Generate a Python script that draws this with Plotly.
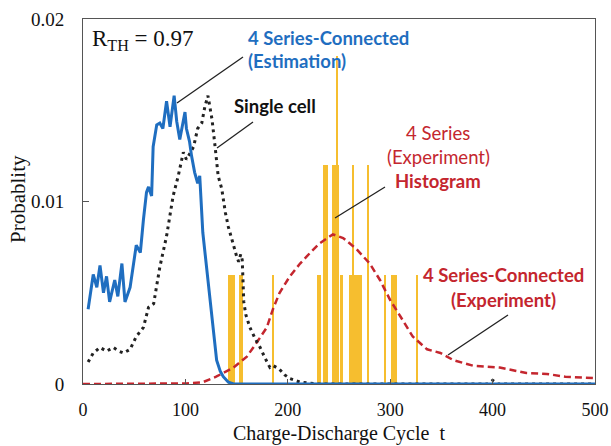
import plotly.graph_objects as go

# ---------------- data ----------------
# 4 Series-Connected (Estimation) - blue solid
est_t = [5, 10, 13.5, 16.6, 20, 23, 26, 31, 34, 38, 41, 46, 52, 56, 59, 62, 64, 67, 68.5, 72,
         75, 78, 81.6, 85, 89, 91.5, 94.5, 99.6, 101, 104, 106, 109, 112, 114, 117, 121, 126,
         130.5, 134, 137, 142, 147, 200, 300, 400, 500]
est_p = [0.0041, 0.0060, 0.0053, 0.0065, 0.0050, 0.0059, 0.0045, 0.0057, 0.0048, 0.0066, 0.0045,
         0.0053, 0.0076, 0.0072, 0.0090, 0.0105, 0.0108, 0.0103, 0.0130, 0.0142, 0.0143, 0.0140,
         0.0155, 0.0141, 0.0158, 0.0144, 0.0134, 0.0149, 0.0140, 0.0133, 0.0125, 0.0116, 0.0110,
         0.0114, 0.0083, 0.0063, 0.0039, 0.0013, 0.0007, 0.0004, 0.0001, 0.0, 0.0, 0.0, 0.0, 0.0]

# Single cell - black dotted
cell_t = [5, 10, 16.6, 23, 29.6, 35, 39.6, 46, 52, 59, 64, 69, 75, 81.6, 88, 93, 98, 101, 108,
          112, 116, 119, 122, 126, 129, 132, 135.5, 139, 142, 147, 150, 152, 154, 155.5, 156, 157,
          159, 163, 168, 173, 178, 182.6, 186, 192, 197, 202, 212, 222, 230, 300, 395, 400, 405,
          500]
cell_p = [0.0012, 0.0017, 0.0020, 0.0018, 0.0020, 0.0018, 0.0017, 0.0019, 0.0026, 0.0031, 0.0042,
          0.0044, 0.0064, 0.0081, 0.0103, 0.0114, 0.0127, 0.0123, 0.0130, 0.0140, 0.0143, 0.0152,
          0.0158, 0.0145, 0.0130, 0.0114, 0.0107, 0.0094, 0.0086, 0.0075, 0.0070, 0.0067, 0.0071,
          0.0068, 0.0055, 0.0045, 0.0038, 0.0031, 0.0025, 0.0020, 0.0014, 0.0009, 0.0010, 0.0008,
          0.0005, 0.0003, 0.0001, 0.00005, 0.0, 0.0, 0.0, 0.0002, 0.0, 0.0]

# 4 Series-Connected (Experiment) - red dashed
exp_t = [0, 50, 101, 117, 130, 147, 160, 170, 179.5, 185.5, 192, 202, 212, 222, 231, 244, 254,
         267, 280, 290, 300, 310, 322, 336, 349, 362, 381, 407, 433, 453, 471, 498, 500]
exp_p = [0.0, 0.00002, 0.00003, 0.0001, 0.0004, 0.0009, 0.0015, 0.0023, 0.0031, 0.0041, 0.0050,
         0.0059, 0.0066, 0.0072, 0.0077, 0.0082, 0.0080, 0.0074, 0.0066, 0.0057, 0.0046, 0.0037,
         0.0026, 0.0019, 0.0017, 0.0013, 0.0010, 0.0009, 0.0006, 0.00055, 0.0004, 0.00033, 0.00033]

# 4 Series (Experiment) Histogram - bins
bin_lo = [141.5, 152.7, 185.2, 229.3, 230.9, 234.0, 242.9, 246.8, 248.8, 251.2, 260.0, 263.0,
          264.2, 278.2, 294.7, 300.8, 325.3]
bin_hi = [148.3, 156.5, 186.2, 230.3, 231.9, 239.0, 246.8, 248.8, 250.4, 254.0, 263.0, 264.2,
          272.0, 279.2, 295.7, 306.3, 326.3]
bin_p = [0.006, 0.006, 0.006, 0.006, 0.006, 0.012, 0.012, 0.018, 0.012, 0.006, 0.006, 0.012,
         0.006, 0.012, 0.006, 0.006, 0.006]

x_ticks = [0, 100, 200, 300, 400, 500]
y_ticks = [0, 0.01, 0.02]
y_ticktext = ["0", "0.01", "0.02"]

# ---------------- figure ----------------
BLUE = "#1F6EC0"
RED = "#C4262E"
YEL = "#F6BE2F"
SERIF = "Liberation Serif"
SANS = "Lato"

fig = go.Figure()

bin_c = [(a + b) / 2 for a, b in zip(bin_lo, bin_hi)]
bin_w = [b - a for a, b in zip(bin_lo, bin_hi)]
fig.add_trace(go.Bar(x=bin_c, y=bin_p, width=bin_w, marker=dict(color=YEL, line=dict(width=0)),
                     name="Histogram"))
fig.add_trace(go.Scatter(x=exp_t, y=exp_p, mode="lines", name="4 Series (Experiment)",
                         line=dict(color=RED, width=2.5, dash="7px,4px")))
fig.add_trace(go.Scatter(x=cell_t, y=cell_p, mode="lines", name="Single cell",
                         line=dict(color="#222222", width=3, dash="3px,4px")))
fig.add_trace(go.Scatter(x=est_t, y=est_p, mode="lines", name="4 Series (Estimation)",
                         line=dict(color=BLUE, width=3)))

fig.update_layout(
    width=611, height=446,
    margin=dict(l=83, r=16, t=19, b=62),
    plot_bgcolor="white", paper_bgcolor="white",
    showlegend=False,
    bargap=0,
    font=dict(family=SERIF, size=18, color="#111111"),
)
fig.update_xaxes(range=[0, 500], tickvals=x_ticks, ticks="inside", ticklen=5, tickcolor="#555",
                 showline=True, linecolor="#555", linewidth=1, mirror=True, showgrid=False,
                 zeroline=False, ticklabelstandoff=9, automargin=False,
                 tickfont=dict(family=SERIF, size=18))
fig.update_yaxes(range=[0, 0.02], tickvals=y_ticks, ticktext=y_ticktext, ticks="inside",
                 ticklen=6, tickcolor="#555", showline=True, linecolor="#555", linewidth=1,
                 mirror=True, showgrid=False, zeroline=False, ticklabelstandoff=14,
                 automargin=False, tickfont=dict(family=SERIF, size=19))

# axis titles
fig.add_annotation(text="Charge-Discharge Cycle  t", xref="paper", yref="paper",
                   x=(339 - 83) / 512, y=-(433 - 384) / 365, xanchor="center", yanchor="middle",
                   showarrow=False, font=dict(family=SERIF, size=20))
fig.add_annotation(text="Probablity", xref="paper", yref="paper", textangle=-90,
                   x=-(83 - 18) / 512, y=(384 - 199) / 365, xanchor="center", yanchor="middle",
                   showarrow=False, font=dict(family=SERIF, size=21))

def px2t(px):
    return (px - 83) / 1.024

def py2p(py):
    return (384 - py) / 18250.0

def label(text, px, py, color, bold=False, anchor="left", size=18.5, family=SANS):
    fig.add_annotation(text=("<b>%s</b>" % text) if bold else text, x=px2t(px), y=py2p(py),
                       xref="x", yref="y", xanchor=anchor, yanchor="middle", showarrow=False,
                       font=dict(family=family, size=size, color=color))

label("R<sub>TH</sub> = 0.97", 90, 40, "#111111", size=23, family=SERIF)
label("4 Series-Connected", 246, 38, BLUE, bold=True)
label("(Estimation)", 246, 61, BLUE, bold=True)
label("Single cell", 232, 106, "#111111", bold=True)
label("4 Series", 438, 133, RED, anchor="center")
label("(Experiment)", 438, 157, RED, anchor="center")
label("Histogram", 438, 181, RED, bold=True, anchor="center")
label("4 Series-Connected", 503, 275, RED, bold=True, anchor="center")
label("(Experiment)", 503, 300, RED, bold=True, anchor="center")

for (x0, y0, x1, y1) in [(243, 57, 177, 103), (253, 122, 217, 148),
                         (385, 187, 335, 218), (508, 315, 448, 355)]:
    fig.add_shape(type="line", xref="x", yref="y", x0=px2t(x0), y0=py2p(y0),
                  x1=px2t(x1), y1=py2p(y1), line=dict(color="#222222", width=1.3))

fig.write_html("out.html")
